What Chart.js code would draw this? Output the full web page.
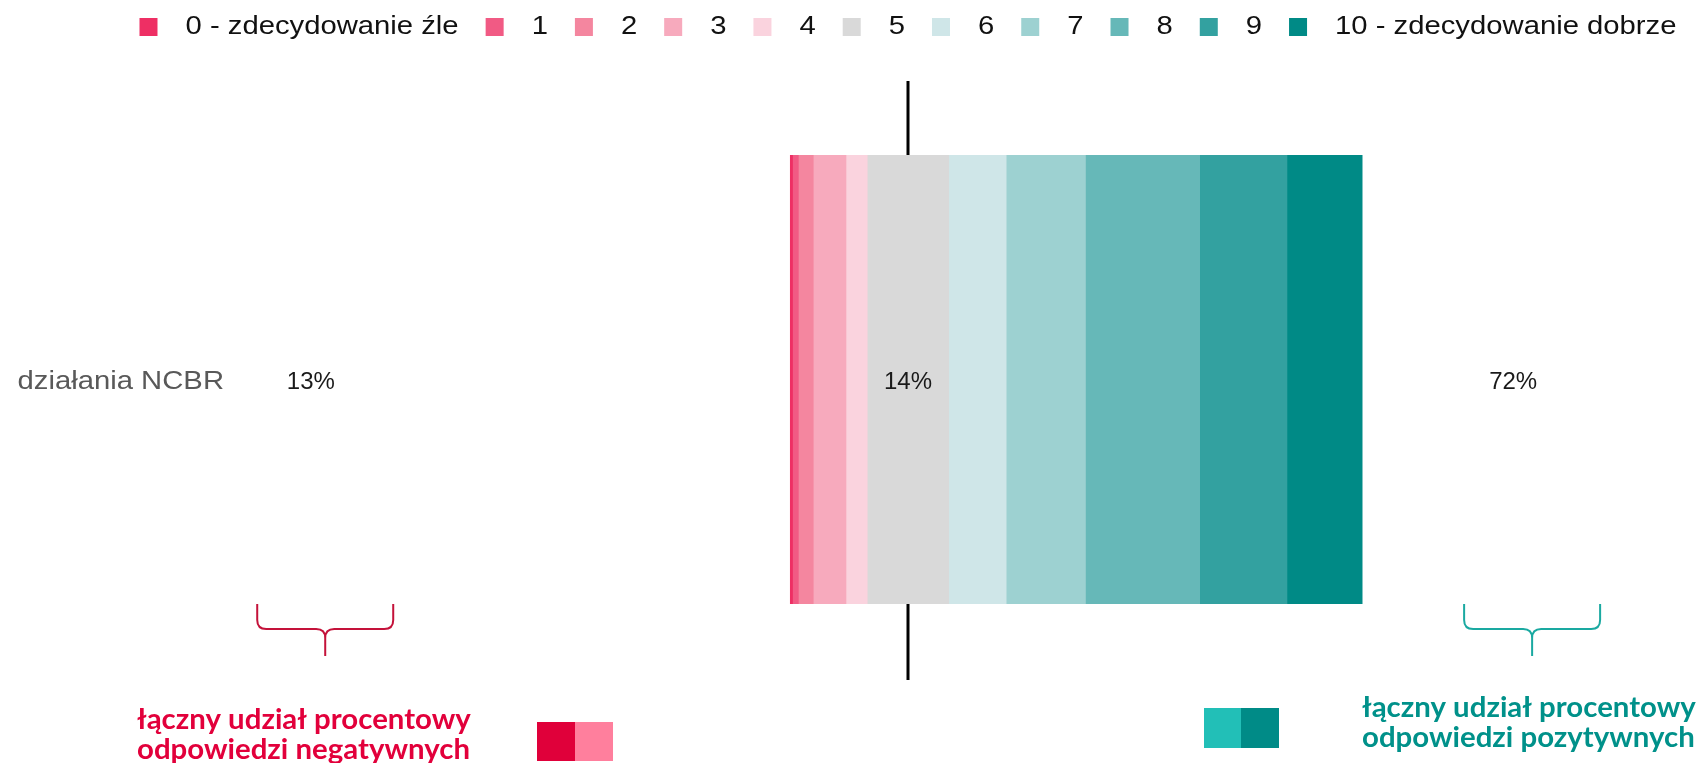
<!DOCTYPE html>
<html lang="pl">
<head>
<meta charset="utf-8">
<title>Ocena działań NCBR</title>
<script src="https://cdn.jsdelivr.net/npm/chart.js@4.4.0/dist/chart.umd.min.js"></script>
<style>
  html, body { margin: 0; padding: 0; background: #fff; }
  #wrap { width: 1701px; height: 763px; position: relative; }
</style>
</head>
<body>
<div id="wrap"><canvas id="likertChart"></canvas></div>
<script>
// --- data --- //
const categories = ['działania NCBR'];
const scaleLabels = ['0 - zdecydowanie źle', '1', '2', '3', '4', '5', '6', '7', '8', '9', '10 - zdecydowanie dobrze'];
const shares = [0.4, 1.0, 2.6, 5.7, 3.7, 14.2, 10.0, 13.8, 19.9, 15.2, 13.1];
const scaleColors = ['#ee2f64', '#f15a84', '#f4869f', '#f7aabd', '#fad3de', '#d9d9d9',
                     '#cfe6e8', '#9dd1d1', '#66b8b8', '#33a1a0', '#008a86'];
const negativeCaption = ['łączny udział procentowy', 'odpowiedzi negatywnych'];
const positiveCaption = ['łączny udział procentowy', 'odpowiedzi pozytywnych'];

const NEUTRAL = 5; // index of the middle answer, centred on zero

// floating [start, end] ranges: neutral split around 0, the rest pushed outwards
function buildRanges(values) {
    const ranges = [];
    const half = values[NEUTRAL] / 2;
    ranges[NEUTRAL] = [-half, half];
    let edge = -half;
    for (let i = NEUTRAL - 1; i >= 0; i--) {
        ranges[i] = [edge - values[i], edge];
        edge -= values[i];
    }
    edge = half;
    for (let i = NEUTRAL + 1; i < values.length; i++) {
        ranges[i] = [edge, edge + values[i]];
        edge += values[i];
    }
    return ranges;
}

const ranges = buildRanges(shares);
const sum = arr => arr.reduce((a, b) => a + b, 0);
const negativeTotal = sum(shares.slice(0, NEUTRAL));
const neutralTotal = shares[NEUTRAL];
const positiveTotal = sum(shares.slice(NEUTRAL + 1));

const STRETCH = 1.17;     // wide lettering for legend / category label
const CAP_STRETCH = 1.05; // bold captions under the braces
const SANS = '"Liberation Sans", Arial, sans-serif';

function drawText(ctx, text, x, y, font, color, align = 'left', stretch = 1) {
    ctx.save();
    ctx.font = font;
    ctx.fillStyle = color;
    ctx.textBaseline = 'middle';
    ctx.textAlign = align;
    ctx.translate(x, y);
    ctx.scale(stretch, 1);
    ctx.fillText(text, 0, 0);
    ctx.restore();
}

function textWidth(ctx, text, font, stretch = 1) {
    ctx.save();
    ctx.font = font;
    const w = ctx.measureText(text).width * stretch;
    ctx.restore();
    return w;
}

// curly brace opening upwards, tip pointing down
function drawBrace(ctx, cx, halfW, top, mid, bottom, color) {
    const r = 9;
    const left = cx - halfW, right = cx + halfW;
    ctx.save();
    ctx.strokeStyle = color;
    ctx.lineWidth = 2;
    ctx.beginPath();
    ctx.moveTo(left, top);
    ctx.lineTo(left, mid - r);
    ctx.quadraticCurveTo(left, mid, left + r, mid);
    ctx.lineTo(cx - r, mid);
    ctx.quadraticCurveTo(cx, mid, cx, mid + r);
    ctx.lineTo(cx, bottom);
    ctx.moveTo(cx, mid + r);
    ctx.quadraticCurveTo(cx, mid, cx + r, mid);
    ctx.lineTo(right - r, mid);
    ctx.quadraticCurveTo(right, mid, right, mid - r);
    ctx.lineTo(right, top);
    ctx.stroke();
    ctx.restore();
}

const decorPlugin = {
    id: 'likertDecor',
    beforeDatasetsDraw(chart) {
        // zero line behind the bar
        const ctx = chart.ctx;
        const x0 = chart.scales.x.getPixelForValue(0);
        const area = chart.chartArea;
        ctx.save();
        ctx.strokeStyle = '#000';
        ctx.lineWidth = 3;
        ctx.beginPath();
        ctx.moveTo(x0, area.top - 74);
        ctx.lineTo(x0, area.bottom + 76);
        ctx.stroke();
        ctx.restore();
    },
    afterDraw(chart) {
        const ctx = chart.ctx;
        const xs = chart.scales.x;
        const area = chart.chartArea;
        const x0 = xs.getPixelForValue(0);

        // --- legend row, centred on the zero line --- //
        const legendFont = '25px ' + SANS;
        const box = 18, boxGap = 28, itemGap = 27;
        const widths = scaleLabels.map(l => textWidth(ctx, l, legendFont, STRETCH));
        const total = sum(widths) + scaleLabels.length * (box + boxGap) + (scaleLabels.length - 1) * itemGap;
        let lx = x0 - total / 2;
        const ly = 27;
        scaleLabels.forEach((label, i) => {
            ctx.fillStyle = scaleColors[i];
            ctx.fillRect(lx, ly - box / 2, box, box);
            drawText(ctx, label, lx + box + boxGap, ly, legendFont, '#111', 'left', STRETCH);
            lx += box + boxGap + widths[i] + itemGap;
        });

        // --- category label and group shares --- //
        const yMid = chart.scales.y.getPixelForValue(0) + 3;
        drawText(ctx, categories[0], area.left + 5, yMid, '25px ' + SANS, '#595959', 'right', STRETCH);
        const pctFont = '24px ' + SANS;
        drawText(ctx, Math.round(negativeTotal) + '%', xs.getPixelForValue(-104), yMid, pctFont, '#1a1a1a', 'center');
        drawText(ctx, Math.round(neutralTotal) + '%', x0, yMid, pctFont, '#1a1a1a', 'center');
        drawText(ctx, Math.round(positiveTotal) + '%', xs.getPixelForValue(105.4), yMid, pctFont, '#1a1a1a', 'center');

        // --- braces --- //
        const bTop = area.bottom, bMid = area.bottom + 25, bBot = area.bottom + 52;
        drawBrace(ctx, xs.getPixelForValue(-101.5), 68, bTop, bMid, bBot, '#c4123a');
        drawBrace(ctx, xs.getPixelForValue(108.7), 68, bTop, bMid, bBot, '#1aa9a1');

        // --- captions with colour keys --- //
        const capFont = 'bold 28px Lato, "Noto Sans", sans-serif';
        negativeCaption.forEach((line, i) => {
            drawText(ctx, line, 137, 720 + i * 30, capFont, '#e2003b', 'left', CAP_STRETCH);
        });
        positiveCaption.forEach((line, i) => {
            drawText(ctx, line, 1362, 708 + i * 30, capFont, '#00918a', 'left', CAP_STRETCH);
        });
        ctx.fillStyle = '#e0003a'; ctx.fillRect(537, 722, 38, 39);
        ctx.fillStyle = '#ff7f9d'; ctx.fillRect(575, 722, 38, 39);
        ctx.fillStyle = '#22bfb7'; ctx.fillRect(1204, 708, 37, 40);
        ctx.fillStyle = '#008b87'; ctx.fillRect(1241, 708, 38, 40);
    }
};

const chart = new Chart(document.getElementById('likertChart'), {
    type: 'bar',
    data: {
        labels: categories,
        datasets: scaleLabels.map((label, i) => ({
            label: label,
            data: [ranges[i]],
            backgroundColor: scaleColors[i],
            borderWidth: 0,
            grouped: false,
            barPercentage: 1,
            categoryPercentage: 1
        }))
    },
    options: {
        indexAxis: 'y',
        responsive: true,
        maintainAspectRatio: false,
        animation: false,
        devicePixelRatio: 1,
        layout: { padding: { left: 219, right: 104, top: 155, bottom: 159 } },
        scales: {
            x: { type: 'linear', min: -120, max: 120, display: false },
            y: { display: false }
        },
        plugins: {
            legend: { display: false },
            tooltip: { enabled: true }
        }
    },
    plugins: [decorPlugin]
});
</script>
</body>
</html>
